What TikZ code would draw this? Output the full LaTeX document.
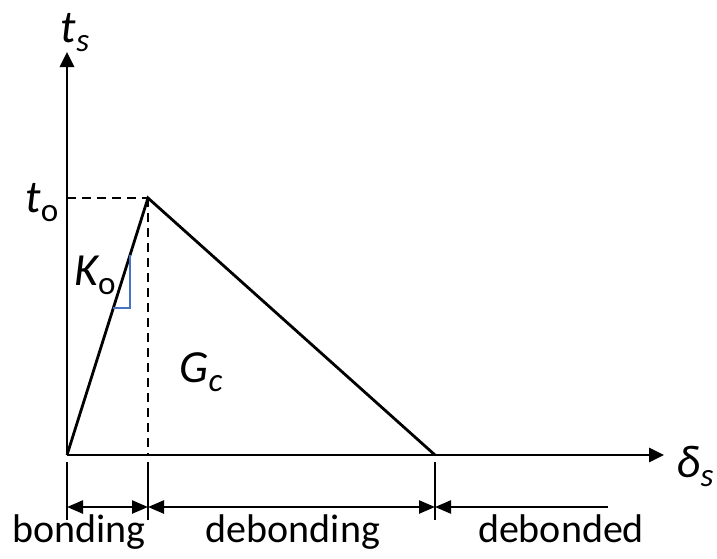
\documentclass[tikz,border=0pt]{standalone}
\usepackage{fontspec}
\setmainfont{Carlito}
\usetikzlibrary{arrows.meta,positioning}
\definecolor{slopeblue}{RGB}{68,114,196}
\newcommand{\lowsub}[1]{\raisebox{-0.45ex}{\scalebox{0.72}{#1}}}
\tikzset{
  axis/.style={-{Triangle[length=15pt,width=14pt]}, line width=2.8pt},
  law/.style={line width=2.8pt},
  guide/.style={dash pattern=on 9pt off 6pt, line width=2.4pt},
  tickline/.style={line width=2pt},
  span/.style={{Triangle[length=16pt,width=13pt]}-{Triangle[length=16pt,width=13pt]}, line width=2.4pt},
  halfspan/.style={{Triangle[length=16pt,width=13pt]}-, line width=2.4pt},
  symbol/.style={font=\fontsize{46}{46}\selectfont\itshape, inner sep=0pt, anchor=base},
  zone/.style={font=\fontsize{40}{40}\selectfont, inner sep=0pt, anchor=base}
}

\begin{document}
\begin{tikzpicture}[x=1pt, y=-1pt]
  \useasboundingbox (0,0) rectangle (717,558);

  \coordinate (origin) at (67,455);
  \coordinate (ytop) at (67,52);
  \coordinate (xend) at (664,455);
  \coordinate (peak) at (148,198);
  \coordinate (final) at (435,455);
  \coordinate (tpeak) at (67,198);
  \coordinate (foot) at (148,455);

  % axes
  \draw[axis] (origin) -- (ytop);
  \draw[axis] (origin) -- (xend);

  % traction-separation law
  \draw[law] (origin) -- (peak) -- (final);
  \draw[guide] (tpeak) -- (peak);
  \draw[guide] (peak) -- (foot);

  % slope marker
  \coordinate (sa) at (130,255);
  \coordinate (sb) at (130,308);
  \coordinate (sc) at (113,308);
  \draw[slopeblue, line width=2.6pt] (sa) -- (sb) -- (sc);

  % labels
  \node[symbol] (ts) at (75,42) {t\lowsub{s}};
  \node[symbol] (to) at (42,212) {t\lowsub{\upshape o}};
  \node[symbol] (ko) at (95,285) {K\lowsub{\upshape o}};
  \node[symbol] (gc) at (201,382) {G\lowsub{c}};
  \node[symbol] (ds) at (695,477) {δ\lowsub{s}};

  % zones
  \coordinate (t1a) at (67,462);  \coordinate (t1b) at (67,520);
  \coordinate (t2a) at (148,462); \coordinate (t2b) at (148,520);
  \coordinate (t3a) at (435,462); \coordinate (t3b) at (435,520);
  \draw[tickline] (t1a) -- (t1b);
  \draw[tickline] (t2a) -- (t2b);
  \draw[tickline] (t3a) -- (t3b);

  \coordinate (d1) at (67,507);
  \coordinate (d2) at (148,507);
  \coordinate (d3) at (435,507);
  \coordinate (d4) at (608,507);
  \draw[span] (d1) -- (d2);
  \draw[span] (d2) -- (d3);
  \draw[halfspan] (d3) -- (d4);

  \node[zone] (bonding) at (79,542) {bonding};
  \node[zone] (debonding) at (293,542) {debonding};
  \node[zone] (debonded) at (561,542) {debonded};
\end{tikzpicture}
\end{document}
